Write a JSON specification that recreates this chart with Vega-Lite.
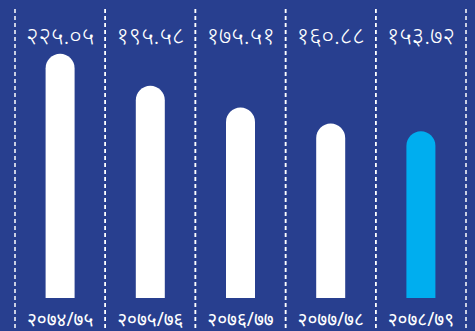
{
  "$schema": "https://vega.github.io/schema/vega-lite/v6.json",
  "width": 451,
  "height": 331,
  "autosize": {"type": "none"},
  "padding": {"left": 15, "right": 9, "top": 0, "bottom": 0},
  "background": "#283f8f",
  "config": {"view": {"stroke": null}},
  "data": {
    "values": [
      {"year": "२०७४/७५", "value": 225.05, "label": "२२५.०५", "highlight": "no"},
      {"year": "२०७५/७६", "value": 195.58, "label": "१९५.५८", "highlight": "no"},
      {"year": "२०७६/७७", "value": 175.51, "label": "१७५.५१", "highlight": "no"},
      {"year": "२०७७/७८", "value": 160.88, "label": "१६०.८८", "highlight": "no"},
      {"year": "२०७८/७९", "value": 153.72, "label": "१५३.७२", "highlight": "yes"}
    ]
  },
  "encoding": {
    "x": {
      "field": "year",
      "type": "ordinal",
      "sort": null,
      "scale": {"paddingInner": 0, "paddingOuter": 0},
      "axis": null
    }
  },
  "resolve": {"scale": {"y": "shared"}},
  "layer": [
    {
      "mark": {"type": "rule", "color": "white", "strokeWidth": 1.5, "strokeDash": [4, 3]},
      "encoding": {
        "x": {"field": "year", "type": "ordinal", "sort": null, "bandPosition": 0},
        "y": {"datum": 266.4, "type": "quantitative", "scale": {"domain": [-30.4, 274.7], "nice": false, "zero": false}, "axis": null},
        "y2": {"datum": -30.4}
      }
    },
    {
      "mark": {"type": "rule", "color": "white", "strokeWidth": 1.5, "strokeDash": [4, 3]},
      "encoding": {
        "x": {"field": "year", "type": "ordinal", "sort": null, "bandPosition": 1},
        "y": {"datum": 266.4, "type": "quantitative", "axis": null},
        "y2": {"datum": -30.4}
      }
    },
    {
      "mark": {"type": "bar", "width": 29, "cornerRadiusTopLeft": 14.5, "cornerRadiusTopRight": 14.5},
      "encoding": {
        "y": {"field": "value", "type": "quantitative", "axis": null},
        "y2": {"datum": 0},
        "color": {
          "field": "highlight",
          "type": "nominal",
          "scale": {"domain": ["no", "yes"], "range": ["#ffffff", "#00aeef"]},
          "legend": null
        }
      }
    },
    {
      "mark": {"type": "text", "color": "white", "font": "Noto Sans", "fontSize": 24, "fontWeight": 300, "baseline": "middle"},
      "encoding": {
        "y": {"datum": 240.6, "type": "quantitative", "axis": null},
        "text": {"field": "label"}
      }
    },
    {
      "mark": {"type": "text", "color": "white", "font": "Noto Sans", "fontSize": 19, "fontWeight": 400, "baseline": "middle"},
      "encoding": {
        "y": {"datum": -20.3, "type": "quantitative", "axis": null},
        "text": {"field": "year"}
      }
    }
  ]
}
